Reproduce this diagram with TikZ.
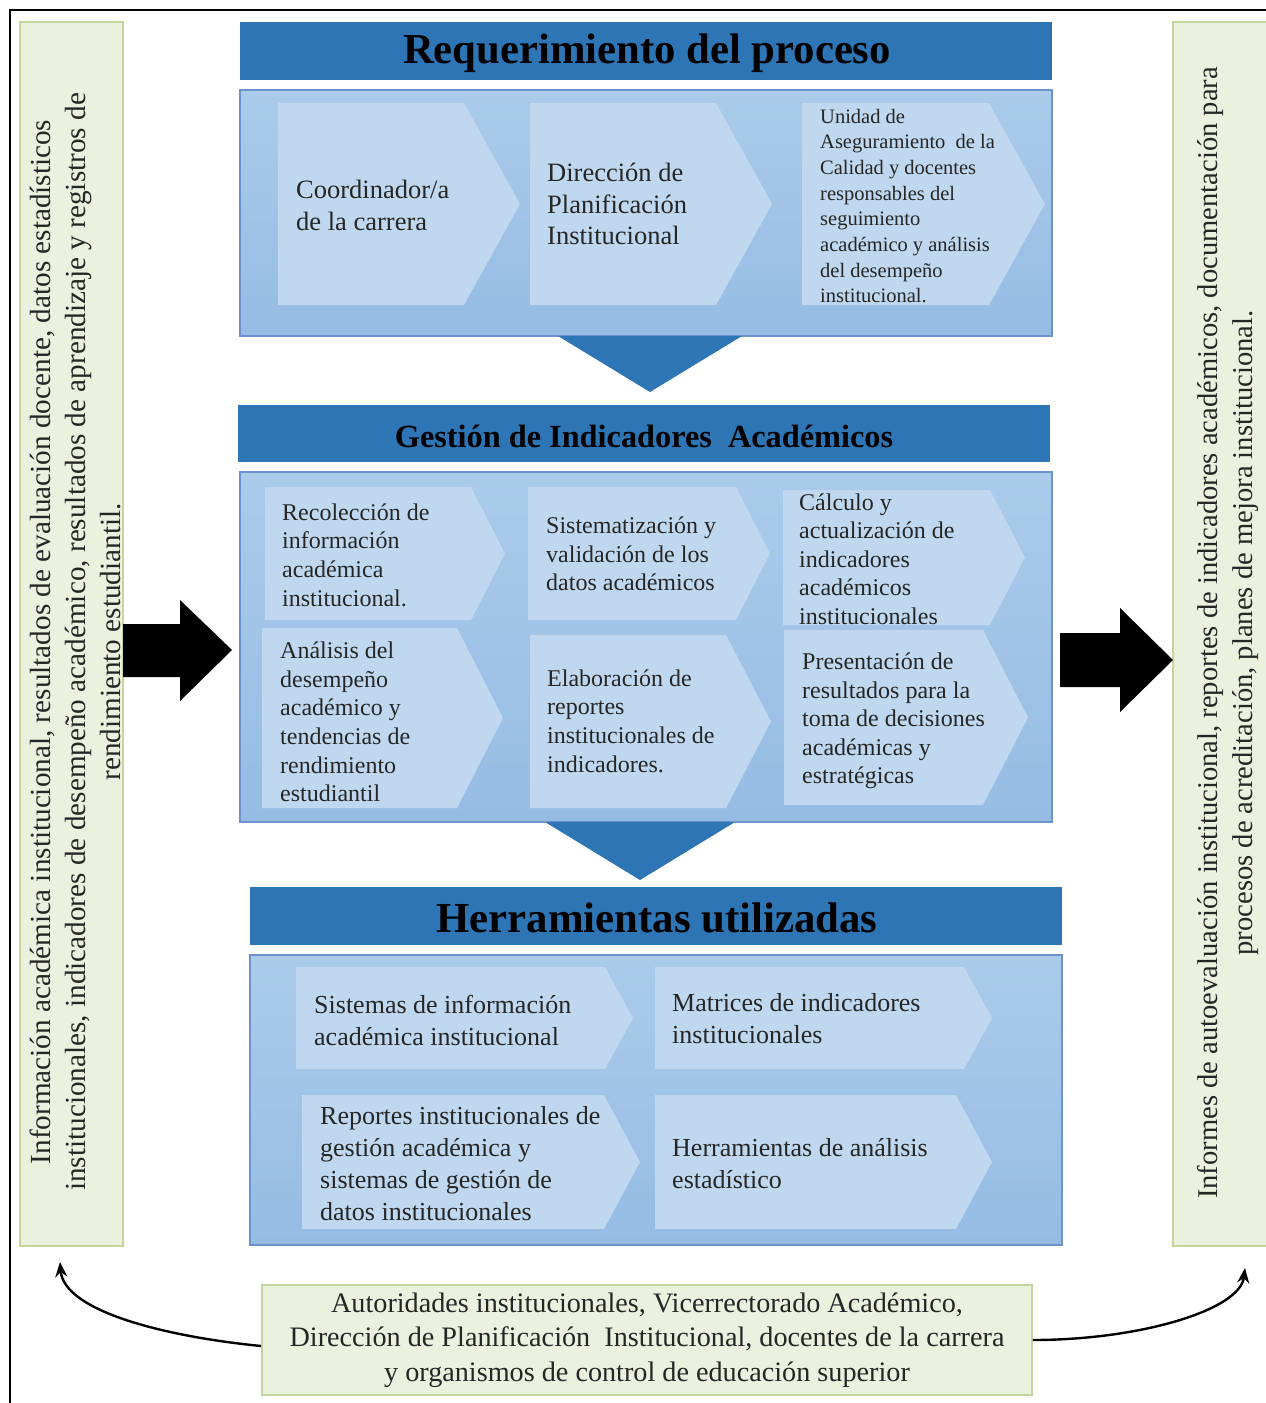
\documentclass[tikz,border=0pt]{standalone}
\usepackage{fontspec}
\setmainfont{Liberation Serif}
\usetikzlibrary{arrows.meta}
\definecolor{hdr}{HTML}{2E75B6}
\definecolor{bodyA}{HTML}{AACBEA}
\definecolor{bodyB}{HTML}{96BCE4}
\definecolor{bodyline}{HTML}{6C93CB}
\definecolor{chevfill}{HTML}{BFD8EF}
\definecolor{grfill}{HTML}{EBF1DE}
\definecolor{grline}{HTML}{C3D69B}
\definecolor{txt}{HTML}{262626}
\newcommand\fsz[2]{\fontsize{#1}{#2}\selectfont}
\newcommand\chevron[5]{\fill[chevfill] (#1,#2) -- ({#3-#5},#2) -- (#3,{(#2+#4)/2}) -- ({#3-#5},#4) -- (#1,#4) -- cycle;}
\tikzset{
  hdrbox/.style={fill=hdr, draw=none},
  bodybox/.style={draw=bodyline, line width=1.3, top color=bodyA, bottom color=bodyB},
  chevtxt/.style={anchor=west, align=left, inner sep=0, text=txt},
  hdrtxt/.style={text=black, inner sep=0},
  greenbox/.style={fill=grfill, draw=grline, line width=1.8},
  blockarrow/.style={fill=black},
  curvearrow/.style={-{Stealth[length=15,width=12]}, line width=2.4},
}
\begin{document}
\begin{tikzpicture}[x=1pt,y=-1pt]
\useasboundingbox (0,0) rectangle (1266,1403);
\clip (0,0) rectangle (1266,1403);
\fill[white] (0,0) rectangle (1266,1403);
% outer frame
\draw[line width=2] (10,10) rectangle (1300,1430);

% side boxes
\node[greenbox, minimum width=103, minimum height=1224, inner sep=0] (lbox) at (71.5,634) {};
\node[rotate=90, align=center, inner sep=0, text=txt, font=\fsz{29.2}{35}] (ltxt) at (75,642)
 {Información académica institucional, resultados de evaluación docente, datos estadísticos\\
  institucionales, indicadores de desempeño académico, resultados de aprendizaje y registros de\\
  rendimiento estudiantil.};
\node[greenbox, minimum width=130, minimum height=1224, inner sep=0] (rbox) at (1238,634) {};
\node[rotate=90, align=center, inner sep=0, text=txt, font=\fsz{28.6}{35}] (rtxt) at (1228,633)
 {Informes de autoevaluación institucional, reportes de indicadores académicos, documentación para\\
  procesos de acreditación, planes de mejora institucional.};

% ---------- panel 1 ----------
\fill[hdrbox] (240,22) rectangle (1052,80);
\node[hdrtxt, font=\bfseries\fsz{42.7}{46}] (h1) at (647,53) {Requerimiento del proceso};
\draw[bodybox] (240,90) rectangle (1052,336);
\chevron{278}{103}{520}{305}{56}
\chevron{530}{103}{772}{305}{56}
\chevron{802}{103}{1045}{305}{56}
\node[chevtxt, font=\fsz{26.5}{32}] (c11) at (296,205) {Coordinador/a\\de la carrera};
\node[chevtxt, font=\fsz{26.5}{31.5}] (c12) at (547,204) {Dirección de\\Planificación\\Institucional};
\node[chevtxt, font=\fsz{20.5}{25.7}] (c13) at (820,206) {Unidad de\\Aseguramiento\ \ de la\\Calidad y docentes\\responsables del\\seguimiento\\académico y análisis\\del desempeño\\institucional.};
\fill[hdr] (558,336) -- (742,336) -- (650,392) -- cycle;

% ---------- panel 2 ----------
\fill[hdrbox] (238,405) rectangle (1050,462);
\node[hdrtxt, font=\bfseries\fsz{32.3}{35}] (h2) at (644,436) {Gestión de Indicadores\ \ Académicos};
\draw[bodybox] (240,472) rectangle (1052,822);
\chevron{265}{487}{505}{620}{34}
\chevron{528}{487}{770}{620}{34}
\chevron{783}{490}{1025}{625}{35}
\chevron{262}{628}{503}{808}{46}
\chevron{530}{635}{771}{808}{45}
\chevron{784}{630}{1028}{805}{45}
\node[chevtxt, font=\fsz{24}{28.6}] (c21) at (282,555) {Recolección de\\información\\académica\\institucional.};
\node[chevtxt, font=\fsz{24}{28.6}] (c22) at (546,554) {Sistematización y\\validación de los\\datos académicos};
\node[chevtxt, font=\fsz{24}{28.6}] (c23) at (799,559) {Cálculo y\\actualización de\\indicadores\\académicos\\institucionales};
\node[chevtxt, font=\fsz{24}{28.6}] (c24) at (280,722) {Análisis del\\desempeño\\académico y\\tendencias de\\rendimiento\\estudiantil};
\node[chevtxt, font=\fsz{24}{28.6}] (c25) at (547,721) {Elaboración de\\reportes\\institucionales de\\indicadores.};
\node[chevtxt, font=\fsz{24}{28.6}] (c26) at (802,721) {Presentación de\\resultados para la\\toma de decisiones\\académicas y\\estratégicas};
\fill[hdr] (545,822) -- (735,822) -- (640,880) -- cycle;

% ---------- panel 3 ----------
\fill[hdrbox] (250,887) rectangle (1062,945);
\node[hdrtxt, font=\bfseries\fsz{42.8}{46}] (h3) at (657,918) {Herramientas utilizadas};
\draw[bodybox] (250,955) rectangle (1062,1245);
\chevron{296}{967}{633}{1069}{28}
\chevron{655}{967}{992}{1069}{28}
\chevron{302}{1095}{640}{1229}{36}
\chevron{655}{1095}{992}{1229}{36}
\node[chevtxt, font=\fsz{26}{32}] (c31) at (314,1020) {Sistemas de información\\académica institucional};
\node[chevtxt, font=\fsz{26}{32}] (c32) at (672,1019) {Matrices de indicadores\\institucionales};
\node[chevtxt, font=\fsz{26}{32}] (c33) at (320,1164) {Reportes institucionales de\\gestión académica y\\sistemas de gestión de\\datos institucionales};
\node[chevtxt, font=\fsz{26}{32}] (c34) at (672,1164) {Herramientas de análisis\\estadístico};

% block arrows
\fill[blockarrow] (123,624) -- (180,624) -- (180,600) -- (232,650) -- (180,701) -- (180,677) -- (123,677) -- cycle;
\fill[blockarrow] (1060,633) -- (1120,633) -- (1120,608) -- (1173,660) -- (1120,712) -- (1120,687) -- (1060,687) -- cycle;

% bottom box
\node[greenbox, minimum width=770, minimum height=110, inner sep=0, align=center, text=txt, font=\fsz{28.2}{34.5}] (bot) at (647,1340)
 {Autoridades institucionales, Vicerrectorado Académico,\\Dirección de Planificación\ \ Institucional, docentes de la carrera\\y organismos de control de educación superior};
\coordinate (lend) at (60,1262);
\coordinate (rend) at (1245,1268);
\draw[curvearrow] ([yshift=-6]bot.west) .. controls (160,1336) and (64,1310) .. (lend);
\draw[curvearrow] (bot.east) .. controls (1140,1340) and (1240,1310) .. (rend);
\end{tikzpicture}
\end{document}
